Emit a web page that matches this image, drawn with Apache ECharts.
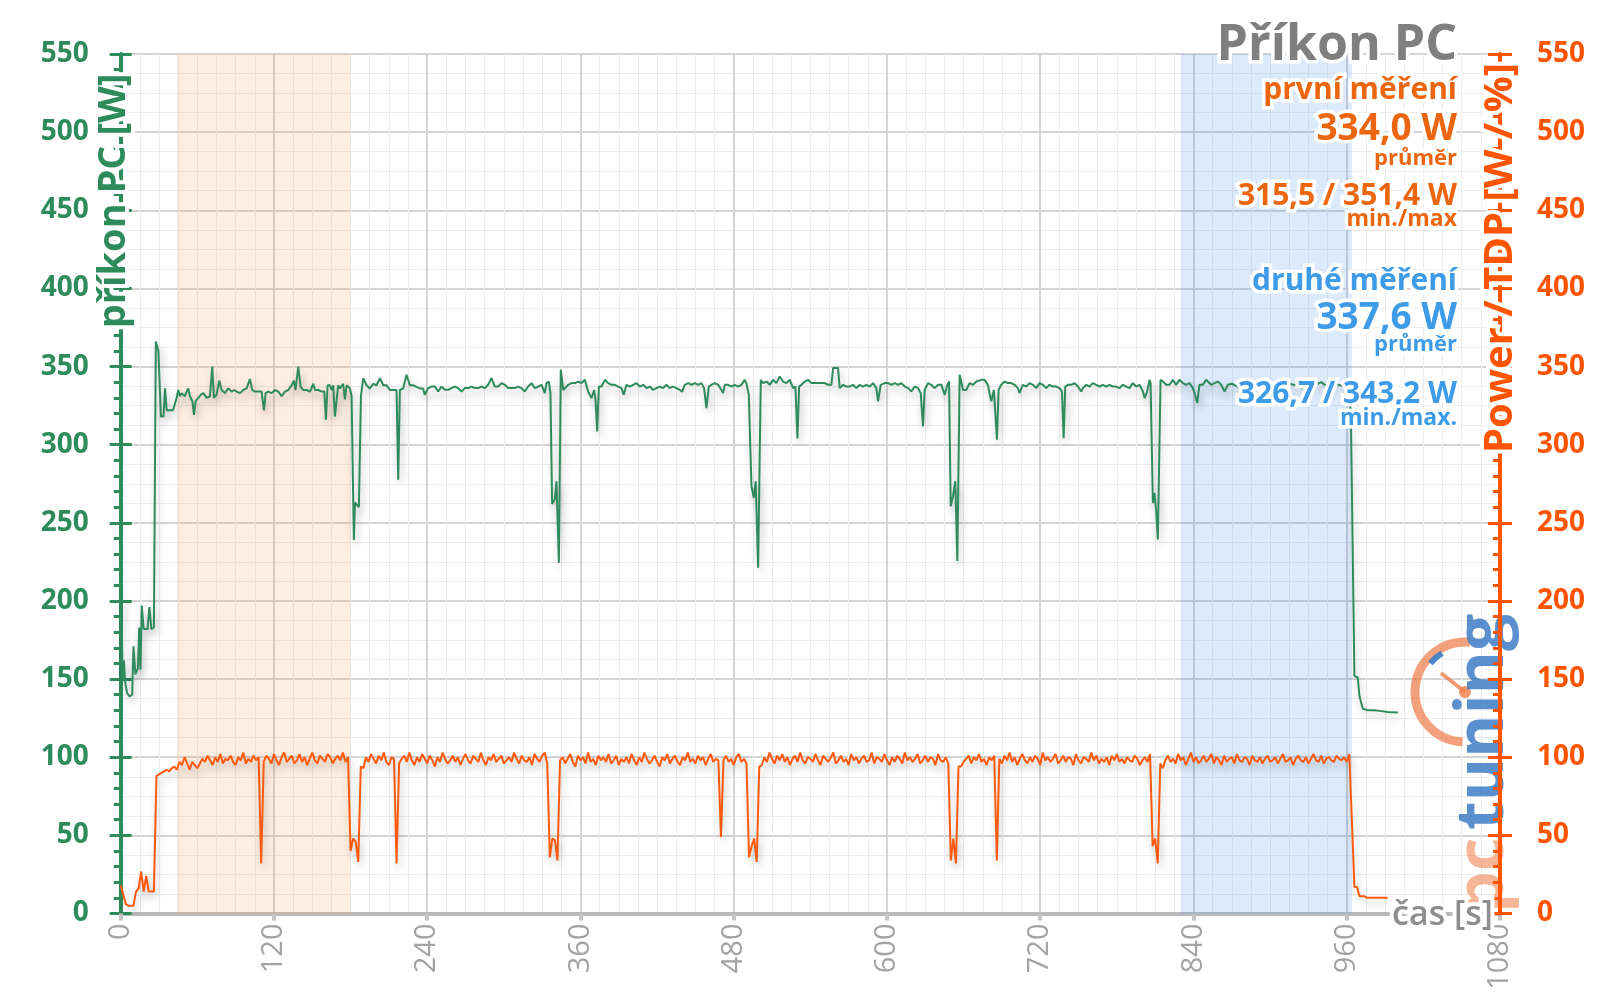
<!DOCTYPE html>
<html><head><meta charset="utf-8">
<script src="https://cdn.jsdelivr.net/npm/echarts@6/dist/echarts.min.js"></script>
<style>html,body{margin:0;padding:0;background:#fff}#c{width:1600px;height:1008px}</style>
</head><body><div id="c"></div><script>
// ---------- axis settings ----------
const X_MAX = 1080, X_STEP = 120;
const Y_MAX = 550, Y_STEP = 50;
const xAxisName = 'čas [s]';
const leftAxisName = 'příkon PC [W]';
const rightAxisName = 'Power / TDP [W / %]';

// ---------- highlighted intervals [s] ----------
const firstWindow = [44, 180];
const secondWindow = [830, 964];

// ---------- annotation texts ----------
const titleText = 'Příkon PC';
const firstLabel = 'první měření', firstAvg = '334,0 W', firstMinMax = '315,5 / 351,4 W';
const secondLabel = 'druhé měření', secondAvg = '337,6 W', secondMinMax = '326,7 / 343,2 W';

// ---------- PC power (green) [time s, W] ----------
const greenStartup = [[0,185],[0.5,205],[1.5,150],[2.5,162],[3.5,148],[5,141],[7,139],[9,140],[10,171],[11.5,153],[13.5,157],[14.5,183],[15.5,156],[16.5,197],[18,182],[21,182],[22.5,196],[24,182],[26,183],[27.5,366],[28.5,367]];
const greenRun1 = [[29.5,360],[31.5,318],[33.5,318],[34.7,336],[36,322],[41,322],[43.8,330],[45.1,335],[46.4,331],[47.7,333],[50.3,331],[51.6,334],[52.9,336],[54.2,331],[56.1,328],[57.4,319],[58.7,328],[60.8,330],[62.8,332],[64.7,333],[67.3,330],[69.9,331],[71.7,350],[73,330],[75.1,332],[77.2,341],[79,335],[81.6,333],[84.2,336],[86.9,334],[88.9,335],[90.8,334],[93.4,333],[96,335],[98.6,336],[101.2,342],[103,335],[105.1,334],[107.7,334],[110.3,334],[112.2,322],[113.5,333],[115.5,334],[118.2,333]];
const greenRun2 = [[120.8,335],[123.4,334],[126,331],[128.6,334],[131.2,335],[133.8,338],[135.6,341],[136.9,335],[139,350],[140.9,337],[142.9,335],[145.6,335],[148.2,334],[150.8,339],[152.1,335],[154.7,335],[157.3,334],[159.4,334],[160.7,316],[162,338],[163.8,338],[165.1,335],[166.4,338],[167.7,318],[169,318],[170.3,338],[171.6,336],[172.9,335],[174.2,339],[175.5,329],[176.9,338],[178.2,339],[179.5,336],[180.8,331],[182.1,263],[182.6,239],[183.4,263],[184.7,262],[186.5,260],[188.1,331],[189.9,342.5],[192.5,338],[195.1,336],[197.7,339],[200.3,338],[203,342.5],[205.6,338],[208.2,338],[210.8,335],[213.4,335],[216,335],[217.3,277.6],[218.6,335],[221.2,336],[223.8,344.7],[226.4,338],[229,338],[231.6,337],[234.2,336],[236.8,336],[238,332]];
const greenRun3 = [[240.8,336.2],[243.4,337.2],[246,337.2],[248.6,334],[251.2,337.2],[253.8,335.1],[256.4,335.1],[259,336.2],[261.6,337.2],[264.2,336.2],[266.9,334],[269.5,336.2],[272.1,336.2],[274.7,337.2],[277.3,336.2],[279.9,336.2],[282.5,337.2],[285.1,336.2],[287.7,338.3],[290.3,342.6],[292.9,337.2],[295.6,337.2],[298.2,339.4],[300.8,338.3],[303.4,336.2],[306,336.2],[308.6,336.2],[311.2,337.2],[313.8,336.2],[316.4,334],[319,337.2],[321.7,339.4],[324.3,336.2],[326.9,337.2],[329.5,338.3]];
const greenRun4 = [[332.1,333],[333.4,339.4],[335.2,340.4],[336.5,333],[337.8,262],[339.9,265],[341.2,276.6],[343.1,224.4],[344.6,348],[346.5,335],[347.8,334],[350.4,338.3],[353,339.4],[355.6,339.4],[358.2,340.4],[360.8,339.4],[363.4,341.5],[366,334],[368.6,329.8],[370.7,335],[371.8,328.7],[373.1,308.5],[374.4,337.2],[376.5,337.2],[379.1,341.5],[381.7,339.4],[384.3,338.3],[386.9,338.3],[389.5,337.2],[392.1,336.2],[393.9,331.9],[396,338.3],[398.6,337.2],[401.2,338.3],[403.8,339.4],[406.5,337.2],[409.1,338.3],[411.7,336.2],[414.3,337.2],[416.9,335],[419.5,336.2],[422.1,337.2],[424.7,336.2],[427.3,338.3],[429.9,336.2],[432.5,337.2],[435.1,336.2],[437.8,335],[439.6,334]];
const greenRun5 = [[441.7,338.3],[444.3,339.4],[446.9,338.3],[449.5,339.4],[452.1,338.3],[454.7,339.4],[456.8,336.2],[458.6,323.4],[460.5,337.2],[462.5,338.3],[465.2,339.4],[467.8,338.3],[470.4,335],[471.7,333],[473,338.3],[475.6,338.3],[478.2,337.2],[480.8,338.3],[483.4,337.2],[486,338.3],[488.6,341.5],[489.9,339.4],[491.8,331.9],[493.9,273.4],[495.7,266],[497.2,276.6],[499.1,221.3],[501.2,341.5],[503,339.4],[505.6,340.4],[508.2,338.3],[510.8,341.5],[513.4,339.4],[516,343.6],[518.6,340.4],[521.2,339.4],[523.9,341.5],[526.5,336.2],[528.3,337.2],[529.9,304],[531.2,337.2],[533,338.3],[535.6,340.4],[538.2,341.5],[540.8,339.4],[543.4,339.4],[546,339.4],[548.6,339.4],[551.3,339.4],[553.9,338.3],[556.5,338.3],[557.8,349],[561.7,349],[563,336.2],[565.6,338.3],[568.2,337.2],[570.8,337.2],[573.4,338.3],[576,336.2],[578.6,338.3],[581.3,337.2],[583.9,338.3],[586.5,337.2],[589.1,339.4],[591.7,336.2],[593,327.7],[595.1,338.3],[598.2,339.4]];
const greenRun6 = [[600.8,339.4],[603.4,338.3],[606,339.4],[608.6,338.3],[611.3,339.4],[613.9,337.2],[616.5,336.2],[619.1,334],[621.7,337.2],[624.3,336.2],[626.4,333],[628.2,311.7],[629.5,335],[632.1,339.4],[634.7,338.3],[637.3,336.2],[640,338.3],[642.6,338.3],[645.2,331.9],[647.3,338.3],[648.6,340.4],[649.9,260.6],[651.7,267],[653.5,276.6],[655.1,225.5],[656.9,344.7],[659.5,335],[662.1,335],[664.7,339.4],[667.4,338.3],[670,340.4],[673.8,341.5],[676.4,341.5],[679,338.3],[681.6,327.7],[683.7,335],[684.8,335],[686.1,303.2],[687.4,335],[689.5,338.3],[692.1,340.4],[694.7,339.4],[697.3,339.4],[699.9,338.3],[702.5,336.2],[703.8,333],[706.4,338.3],[709,337.2],[711.6,339.4],[714.3,338.3],[716.9,336.2],[719.5,339.4]];
const greenRun7 = [[722.1,338.3],[724.7,336.2],[727.3,338.3],[729.9,337.2],[732.5,337.2],[735.1,336.2],[737,334],[738.3,304.2],[739.6,337.2],[741.7,338.3],[744.3,338.3],[746.9,339.4],[749.5,337.2],[752.1,334],[753.4,336.2],[756,338.3],[758.6,337.2],[761.2,339.4],[763.8,338.3],[766.4,337.2],[769,338.3],[771.7,337.2],[774.3,338.3],[776.9,337.2],[779.5,337.2],[782.1,336.2],[784.7,338.3],[787.3,337.2],[789.9,336.2],[792.5,339.4],[795.1,337.2],[797.7,338.3],[800.4,334],[801.7,329.8],[803.7,334],[805.6,341.5],[806.4,339.4],[808.2,262.7],[809.5,269],[810.8,257.4],[812.1,239.3],[813.4,239.3],[814.2,341.5],[816,340.4],[818.6,338.3],[821.2,338.3],[823.8,341.5],[826.4,338.3],[829,341.5],[831.7,339.4],[834.3,338.3],[836.9,339.4],[839.5,336.2]];
const greenRun8 = [[840.8,333],[842.9,326.6],[844.7,338.3],[847.3,338.3],[849.9,341.5],[851.2,342.5],[853.8,338.3],[856.4,339.4],[859.1,340.4],[861.7,338.3],[864.3,334],[866.9,338.3],[870,339],[875,337],[880,340],[885,338],[890,336],[895,339],[900,338],[905,340],[910,337],[915,339],[920,338],[925,336],[930,339],[935,338],[940,340],[945,337],[950,339],[955,338],[960,337],[962,339]];
const greenIdle = [[963.4,309.6],[966,152],[968.6,151],[970,139],[972.6,131],[976.5,130],[981.7,130],[987,129.5],[992,129],[1000,128.7]];

// ---------- CPU power / TDP (orange), sampled every 2 s ----------
const ORANGE_DT = 2;
const orangeStartup = [18,12,6,5,5,5,14,16,27,14,24,14,14,14,88];
const orangeRamp = [89,90,91,92,91,93,94,92,97,95,100,96,92,97,95,93,96,99,97,101,98,95,100,97,102,96,99,98,101,97,95,100,98,103,96,99,97,101,98,100];
const orangeA = [97,101,99,96,102,98,95,100,103,97,99,101,96,98,102,97,100,95,99,103,98,96,101,99,97,102,100,96,99,101,98,103,97,100];
const orangeB = [93,100,97,102,99,96,101,98,103,97,95,100,99];
const orangeC = [96,99,101,97,103,98,95,100,97,102,99,96,101,98,94,100,97,103,99,96,98,101,97,100,95,99,102,98,96,101,99,97,103,98,95,100,98,102,97,99,101,96,98,100,97,103,99,96,101,98,97,100,95,102,99,97,101,103,96];
const orangeD = [100,96,99,102,97,94,101,98,100,96,103,97,99,95,101,98,100,97,102,96,98,101,95,99,97,100,96,102,98,95,100,97,103,99,96,98,101,97,94,100,98,102,96,99,101,97,95,100,98,103,97,99,96,101,98,100,95,99,102,97,99,98];
const orangeE = [98,101,97,99,95,100,102,97,99,96];
const orangeF = [95,100,97,103,99,96,101,98,102,97,100,95,99,101,97,103,98,96,100,99,97,102,98,95,101,99,97,100,103,96,98,101,97,99,95,102,98,100,96,99,101,97,98,103,96,100,99,97,102,98,95,100,97,101,99,96,103,98,100,97,99,102,96,98,101,97,100,99,95,102,98,97,100,96];
const orangeG = [94,97,99,101,96,100,98,102,97,99,95,100,98,101];
const orangeH = [99,96,101,98,103,97,100,95,99,102,98,96,100,97,101,99,95,103,98,100,97,99,102,96,98,101,97,100,99,95,102,98,96,100,99,97,103,98,101,96,99,97,100,95,101,98,102,97,99,96,100,98,97,101,99,95,98,100,97,102];
const orangeI = [93,98,101,97,99,96,102,98,100,95,99,103,97,100,96,98,101,97,99,102,96,100,98,95,101,97,99,100,96,102,98,97,100,99,95,101,98,97,100,96,99,101,97,98,100,96,99,102,97,98,100,95,99,101,98,97,100,96,99,102,98,97,101,96,99,100,98,97,101,99,98,100,97,102];
const orangeIdle = [11,11,10,10,10,10,10,10,10,10,10];
// [start time, samples]
const orangeRuns = [
  [0, orangeStartup], [30, orangeRamp], [110, [32]], [112, orangeA],
  [180, [40,48,46,33,94]], [190, orangeB], [216, [32]], [218, orangeC],
  [336, [36,48,47,34,98]], [346, orangeD], [470, [49]], [472, orangeE],
  [492, [36,43,48,33,94]], [502, orangeF], [650, [34,48,32,94]], [658, orangeG],
  [686, [34]], [688, orangeH], [808, [43,48,32,96]], [816, orangeI],
  [964, [60,17,17,11]], [972, orangeIdle]
];

// ---------- build ----------
const greenData = [].concat(greenStartup, greenRun1, greenRun2, greenRun3, greenRun4, greenRun5, greenRun6, greenRun7, greenRun8, greenIdle);
const orangeData = [];
orangeRuns.forEach(([start, vals]) => vals.forEach((v, i) => orangeData.push([start + i * ORANGE_DT, v])));

const FONT = '"Open Sans", "DejaVu Sans", sans-serif';
const GREEN = '#2e8b5c', ORANGE_LINE = '#ff5a0d', ORANGE_AX = '#ff5500', ORANGE_TXT = '#ec650f', BLUE_TXT = '#3d9be8', GRAY = '#a3a3a3';
const MAJOR = '#d4d4d4', MINOR = '#ececec';

const chart = echarts.init(document.getElementById('c'), null, {renderer: 'canvas'});

function txt(text, x, y, size, color, extra) {
  return Object.assign({
    type: 'text', x: x, y: y, z: 20,
    style: {
      text: text, fill: color, font: 'bold ' + size + 'px ' + FONT,
      textAlign: 'right', align: 'right', textVerticalAlign: 'middle', verticalAlign: 'middle',
      stroke: '#fff', lineWidth: 7
    }
  }, extra || {});
}

const RIGHT_X = 1457;
const option = {
  animation: false,
  backgroundColor: '#fff',
  grid: {left: 120.7, right: 100, top: 54, bottom: 94.5, containLabel: false},
  xAxis: [{
    type: 'value', min: 0, max: X_MAX, interval: X_STEP, position: 'bottom',
    axisLine: {show: true, onZero: false, lineStyle: {color: '#b9b9b9', width: 4}},
    axisTick: {show: true, length: 7, lineStyle: {color: '#c4c4c4', width: 4}},
    axisLabel: {rotate: 90, color: GRAY, fontSize: 29, fontFamily: FONT, margin: 10, formatter: v => String(v)},
    splitLine: {show: true, lineStyle: {color: MAJOR, width: 2}},
    minorTick: {show: false, splitNumber: 8},
    minorSplitLine: {show: true, lineStyle: {color: MINOR, width: 1}}
  }],
  yAxis: [
    { // left, PC power
      type: 'value', min: 0, max: Y_MAX, interval: Y_STEP, position: 'left',
      axisLine: {show: true, lineStyle: {color: GREEN, width: 4}},
      axisTick: {show: true, length: 11, lineStyle: {color: GREEN, width: 3}},
      minorTick: {show: true, splitNumber: 5, length: 7, lineStyle: {color: GREEN, width: 3}},
      axisLabel: {color: GREEN, fontSize: 28, fontWeight: 'bold', fontFamily: FONT, margin: 32},
      splitLine: {show: true, lineStyle: {color: MAJOR, width: 2}}
    },
    { // right, CPU power / TDP
      type: 'value', min: 0, max: Y_MAX, interval: Y_STEP, position: 'right', z: 5,
      axisLine: {show: true, lineStyle: {color: ORANGE_AX, width: 4}},
      axisTick: {show: true, inside: true, length: 12, lineStyle: {color: ORANGE_AX, width: 3}},
      minorTick: {show: true, splitNumber: 5, length: 7, lineStyle: {color: ORANGE_AX, width: 3}},
      axisLabel: {color: ORANGE_AX, fontSize: 28, fontWeight: 'bold', fontFamily: FONT, margin: 37},
      splitLine: {show: false}
    },
    { // minor horizontal grid
      type: 'value', min: 0, max: Y_MAX, interval: Y_STEP, position: 'left', z: -1,
      axisLine: {show: false}, axisTick: {show: false}, axisLabel: {show: false},
      splitLine: {show: false},
      minorTick: {show: false, splitNumber: 4},
      minorSplitLine: {show: true, lineStyle: {color: MINOR, width: 1}}
    },
    { // inner half of left major ticks
      type: 'value', min: 0, max: Y_MAX, interval: Y_STEP, position: 'left',
      axisLine: {show: false}, axisLabel: {show: false}, splitLine: {show: false},
      axisTick: {show: true, inside: true, length: 11, lineStyle: {color: GREEN, width: 3}}
    },
    { // outer half of right major ticks
      type: 'value', min: 0, max: Y_MAX, interval: Y_STEP, position: 'right', z: 5,
      axisLine: {show: false}, axisLabel: {show: false}, splitLine: {show: false},
      axisTick: {show: true, inside: false, length: 12, lineStyle: {color: ORANGE_AX, width: 3}}
    }
  ],
  series: [
    {
      type: 'line', name: 'příkon PC', yAxisIndex: 0, data: greenData, showSymbol: false, symbol: 'none',
      lineStyle: {color: GREEN, width: 2, shadowColor: 'rgba(0,0,0,0.28)', shadowBlur: 8, shadowOffsetY: 5, shadowOffsetX: 2},
      z: 3,
      markArea: {
        silent: true,
        data: [
          [{xAxis: firstWindow[0], itemStyle: {color: 'rgba(250,170,110,0.2)'}}, {xAxis: firstWindow[1]}],
          [{xAxis: secondWindow[0], itemStyle: {color: 'rgba(60,140,235,0.18)'}}, {xAxis: secondWindow[1]}]
        ]
      }
    },
    {
      type: 'line', name: 'Power / TDP', yAxisIndex: 1, data: orangeData, showSymbol: false, symbol: 'none',
      lineStyle: {color: ORANGE_LINE, width: 2, shadowColor: 'rgba(0,0,0,0.25)', shadowBlur: 8, shadowOffsetY: 5, shadowOffsetX: 2},
      z: 3
    }
  ],
  graphic: [
    // logo watermark
    {type: 'arc', z: 1, shape: {cx: 1465, cy: 692, r: 50, startAngle: Math.PI / 2 + 0.05, endAngle: Math.PI * 1.5 + 0.1, clockwise: true},
     style: {stroke: 'rgba(238,130,80,0.75)', lineWidth: 9, fill: null}},
    {type: 'arc', z: 1, shape: {cx: 1465, cy: 692, r: 45, startAngle: Math.PI * 1.22, endAngle: Math.PI * 1.33, clockwise: true},
     style: {stroke: 'rgba(60,125,200,0.9)', lineWidth: 6, fill: null}},
    {type: 'line', z: 1, shape: {x1: 1465, y1: 692, x2: 1441, y2: 673}, style: {stroke: 'rgba(238,130,80,0.8)', lineWidth: 4}},
    {type: 'circle', z: 1, shape: {cx: 1465, cy: 692, r: 6}, style: {fill: 'rgba(238,130,80,0.85)'}},
    {type: 'text', z: 1, x: 1484, y: 913, rotation: Math.PI / 2,
     style: {text: 'pc', fill: 'rgba(242,150,105,0.7)', font: 'bold 66px ' + FONT, textAlign: 'left', align: 'left', textVerticalAlign: 'middle', verticalAlign: 'middle'}},
    {type: 'text', z: 1, x: 1484, y: 830, rotation: Math.PI / 2,
     style: {text: 'tuning', fill: 'rgba(55,120,195,0.82)', font: 'bold 66px ' + FONT, textAlign: 'left', align: 'left', textVerticalAlign: 'middle', verticalAlign: 'middle'}},
    // axis names
    {type: 'text', z: 20, x: 114, y: 201, rotation: Math.PI / 2,
     style: {text: leftAxisName, fill: GREEN, font: 'bold 38px ' + FONT, textAlign: 'center', align: 'center', textVerticalAlign: 'middle', verticalAlign: 'middle', stroke: '#fff', lineWidth: 8}},
    {type: 'text', z: 20, x: 1501, y: 258, rotation: Math.PI / 2,
     style: {text: rightAxisName, fill: ORANGE_AX, font: 'bold 40px ' + FONT, textAlign: 'center', align: 'center', textVerticalAlign: 'middle', verticalAlign: 'middle', stroke: '#fff', lineWidth: 8}},
    {type: 'text', z: 20, x: 1493, y: 915,
     style: {text: xAxisName, fill: '#8e8e8e', font: '600 34px ' + FONT, textAlign: 'right', align: 'right', textVerticalAlign: 'middle', verticalAlign: 'middle', stroke: '#fff', lineWidth: 8}},
    // annotation block
    txt(titleText, RIGHT_X, 46, 50, '#7f7f7f'),
    txt(firstLabel, RIGHT_X, 90, 30, ORANGE_TXT),
    txt(firstAvg, RIGHT_X, 129, 37, ORANGE_TXT),
    txt('průměr', RIGHT_X, 158.5, 22, ORANGE_TXT),
    txt(firstMinMax, RIGHT_X, 196.5, 30, ORANGE_TXT),
    txt('min./max', RIGHT_X, 219.5, 23, ORANGE_TXT),
    txt(secondLabel, RIGHT_X, 281, 30, BLUE_TXT),
    txt(secondAvg, RIGHT_X, 318, 37, BLUE_TXT),
    txt('průměr', RIGHT_X, 344.5, 22, BLUE_TXT),
    txt(secondMinMax, RIGHT_X, 394.5, 30, BLUE_TXT),
    txt('min./max.', RIGHT_X, 418.5, 23, BLUE_TXT)
  ]
};
chart.setOption(option);
</script></body></html>
